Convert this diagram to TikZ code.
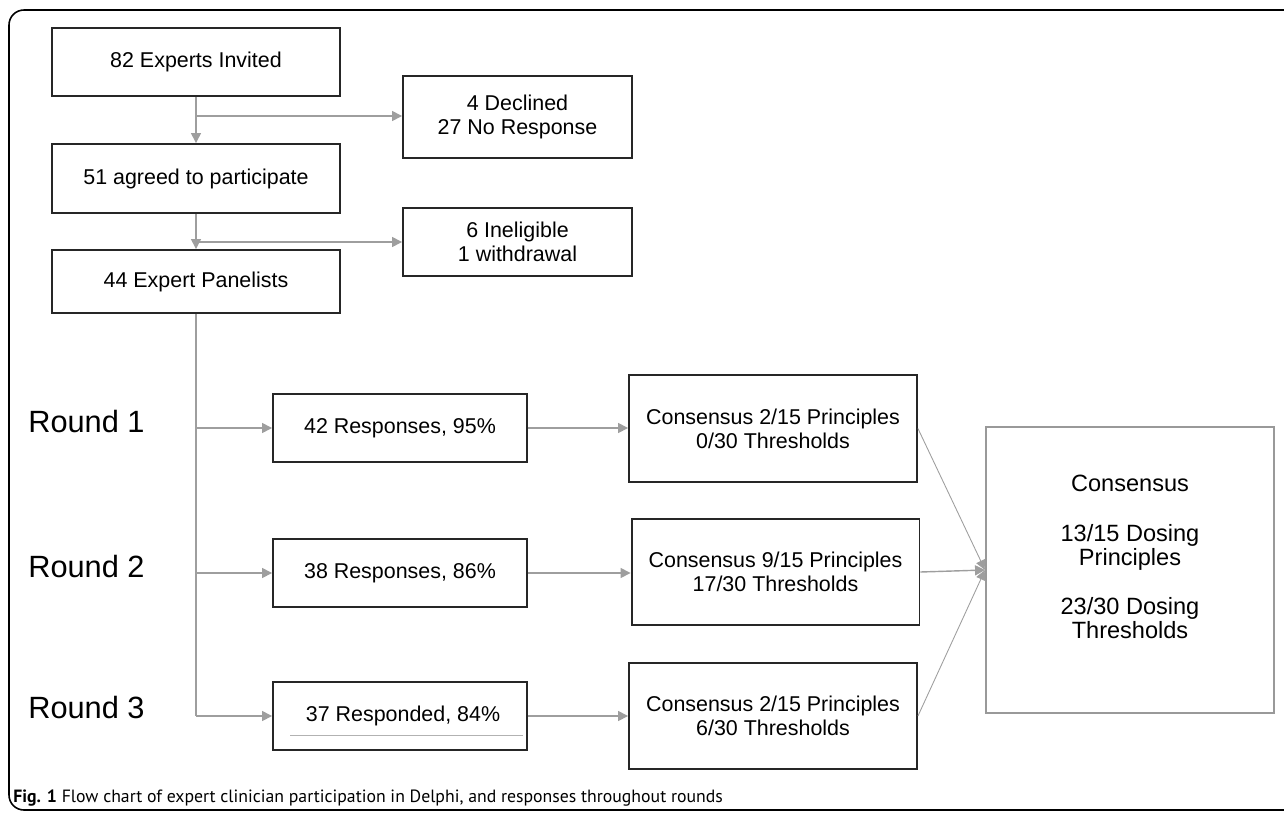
\documentclass[tikz,border=0pt]{standalone}
\usepackage{fontspec}
\setmainfont{Liberation Sans}
\newfontfamily\captionfont{PT Sans}
\usetikzlibrary{arrows.meta}

\tikzset{
    box/.style = {shape = rectangle, draw = black!85, line width = 1.1pt, align = center, inner sep = 0pt, font = \fontsize{12.2}{13.7}\selectfont},
    widebox/.style = {box, minimum width = 5.76cm},
    flow/.style = {draw = black!38, line width = 0.8pt},
    flowarrow/.style = {-{Triangle[length = 0.2cm, width = 0.2cm]}},
    roundlabel/.style = {anchor = base west, inner sep = 0pt, font = \fontsize{17.5}{19}\selectfont},
}

\begin{document}
\begin{tikzpicture}[x = 0.02cm, y = -0.02cm]
    \useasboundingbox (0,0) rectangle (1284,814);
    \clip (0,0) rectangle (1284,814);
    \draw[line width = 0.9pt, rounded corners = 0.3cm] (9,10) rectangle (1320,810);

    % recruitment
    \node [widebox, minimum height = 1.36cm] (invited) at (196,62) {82 Experts Invited};
    \node [widebox, minimum height = 1.38cm] (agreed) at (196,178.5) {51 agreed to participate};
    \node [widebox, minimum height = 1.26cm] (panel) at (196,281.5) {44 Expert Panelists};
    \node [box, minimum width = 4.58cm, minimum height = 1.64cm] (declined) at (517.5,117) {4 Declined\\27 No Response};
    \node [box, minimum width = 4.58cm, minimum height = 1.36cm] (ineligible) at (517.5,242) {6 Ineligible\\1 withdrawal};

    \coordinate (split1) at (196,116);
    \coordinate (split2) at (196,242);
    \draw[flow, flowarrow] (invited.south) -- (agreed.north);
    \draw[flow, flowarrow] (split1) -- (split1 -| declined.west);
    \draw[flow, flowarrow] (agreed.south) -- (panel.north);
    \draw[flow, flowarrow] (split2) -- (ineligible.west);

    % rounds
    \node [roundlabel] (round1) at (28,432) {Round 1};
    \node [roundlabel] (round2) at (28,577) {Round 2};
    \node [roundlabel] (round3) at (28,718) {Round 3};

    \node [box, minimum width = 5.08cm, minimum height = 1.36cm] (resp1) at (400,428) {42 Responses, 95\%};
    \node [box, minimum width = 5.08cm, minimum height = 1.36cm] (resp2) at (400,573) {38 Responses, 86\%};
    \node [box, minimum width = 5.08cm, minimum height = 1.36cm] (resp3) at (400,716) {\hspace{0.12cm}37 Responded, 84\%};
    \draw[black!30, line width = 0.5pt] (290,735) -- (523,735);

    \coordinate (trunkend) at (196,716);
    \draw[flow] (panel.south) -- (trunkend);
    \draw[flow, flowarrow] (panel.south |- resp1.west) -- (resp1.west);
    \draw[flow, flowarrow] (panel.south |- resp2.west) -- (resp2.west);
    \draw[flow, flowarrow] (trunkend) -- (resp3.west);

    \node [widebox, minimum height = 2.14cm] (cons1) at (773,428.5) {Consensus 2/15 Principles\\0/30 Thresholds};
    \node [widebox, minimum height = 2.12cm] (cons2) at (775.5,572) {Consensus 9/15 Principles\\17/30 Thresholds};
    \node [widebox, minimum height = 2.12cm] (cons3) at (773,716) {Consensus 2/15 Principles\\6/30 Thresholds};

    \draw[flow, flowarrow] (resp1.east) -- (resp1.east -| cons1.west);
    \draw[flow, flowarrow] (resp2.east) -- (resp2.east -| cons2.west);
    \draw[flow, flowarrow] (resp3.east) -- (resp3.east -| cons3.west);

    % overall result
    \node [box, draw = black!40, minimum width = 5.76cm, minimum height = 5.72cm] (final) at (1130,570) {};
    \node [align = center, inner sep = 0pt, font = \fontsize{13.4}{13.7}\selectfont] (finaltext) at (1130,557)
        {Consensus\\[14.5pt]13/15 Dosing\\Principles\\[14pt]23/30 Dosing\\Thresholds};

    \draw[flow, line width = 0.5pt, flowarrow] (cons1.east) -- (final.west);
    \draw[flow, flowarrow] (cons2.east) -- (final.west);
    \draw[flow, line width = 0.5pt, flowarrow] (cons3.east) -- (final.west);

    \node [anchor = base west, inner sep = 0pt, font = \captionfont\fontsize{10.1}{11}\selectfont] (caption) at (13,802)
        {\textbf{Fig. 1} Flow chart of expert clinician participation in Delphi, and responses throughout rounds};
\end{tikzpicture}
\end{document}
